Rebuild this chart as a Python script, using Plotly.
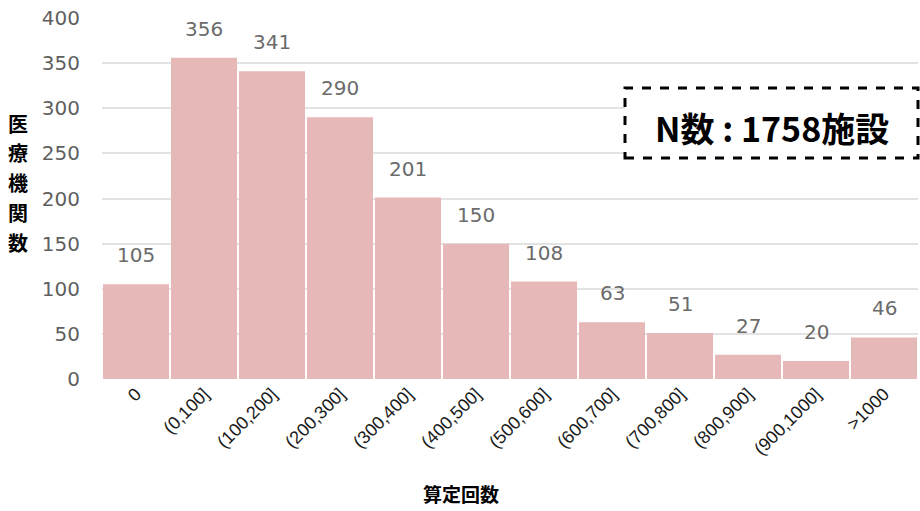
import plotly.graph_objects as go

categories = ["0", "(0,100]", "(100,200]", "(200,300]", "(300,400]", "(400,500]",
              "(500,600]", "(600,700]", "(700,800]", "(800,900]", "(900,1000]", ">1000"]
counts = [105, 356, 341, 290, 201, 150, 108, 63, 51, 27, 20, 46]
y_ticks = [0, 50, 100, 150, 200, 250, 300, 350, 400]
y_title_chars = ["医", "療", "機", "関", "数"]

L, R, T, B = 102, 2, 18, 132
W, H = 920, 511
PW, PH = W - L - R, H - T - B

def px(x):
    return (x - L) / PW

def py(y):
    return (H - B - y) / PH

fig = go.Figure()
fig.add_trace(go.Bar(
    x=categories, y=counts,
    marker=dict(color="#E6B8B7", line=dict(width=0)),
    hoverinfo="skip",
))
annotations = []
for c, v in zip(categories, counts):
    annotations.append(dict(x=c, y=v, xref="x", yref="y", text=str(v), showarrow=False,
                            yshift=29, yanchor="middle",
                            font=dict(family="DejaVu Sans", size=20, color="#6b6b6b")))
for i, ch in enumerate(y_title_chars):
    annotations.append(dict(text="<b>" + ch + "</b>", x=px(18), y=py(123 + 29.75 * i),
                            xref="paper", yref="paper", showarrow=False,
                            font=dict(size=20, color="black", family="Noto Sans CJK JP"),
                            xanchor="center", yanchor="middle"))
annotations += [
    dict(text="<b>算定回数</b>", xref="paper", yref="paper", x=px(461), y=py(493),
         showarrow=False, font=dict(size=19, color="black", family="Noto Sans CJK JP"),
         xanchor="center", yanchor="middle"),
    dict(text="<b>N数 : 1758施設</b>", xref="paper", yref="paper", x=px(772), y=py(128),
         showarrow=False, font=dict(size=34, color="black", family="Noto Sans CJK JP"),
         xanchor="center", yanchor="middle"),
]
fig.update_layout(
    width=W, height=H,
    margin=dict(l=L, r=R, t=T, b=B, autoexpand=False),
    plot_bgcolor="white", paper_bgcolor="white",
    bargap=0.03, showlegend=False,
    font=dict(family="Liberation Sans, Arial"),
    xaxis=dict(tickangle=-45, tickfont=dict(size=18, color="#1a1a1a", family="Liberation Sans, Arial"),
               showgrid=False, showline=False, ticks="", automargin=False),
    yaxis=dict(range=[0, 400], tickvals=y_ticks, showgrid=True, gridcolor="#E3E3E3",
               gridwidth=1.5, zeroline=False, automargin=False, ticklabelstandoff=21,
               tickfont=dict(size=20, color="#5f5f5f", family="DejaVu Sans"),
               ticks="", ticklen=0),
    annotations=annotations,
)
fig.add_shape(type="rect", xref="paper", yref="paper",
              x0=px(625), x1=px(918), y0=py(158), y1=py(88),
              line=dict(color="black", width=3, dash="dash"), fillcolor="white", layer="above")
fig.write_html("out.html", post_script="document.body.style.margin='0';",
               config={"displayModeBar": False})
